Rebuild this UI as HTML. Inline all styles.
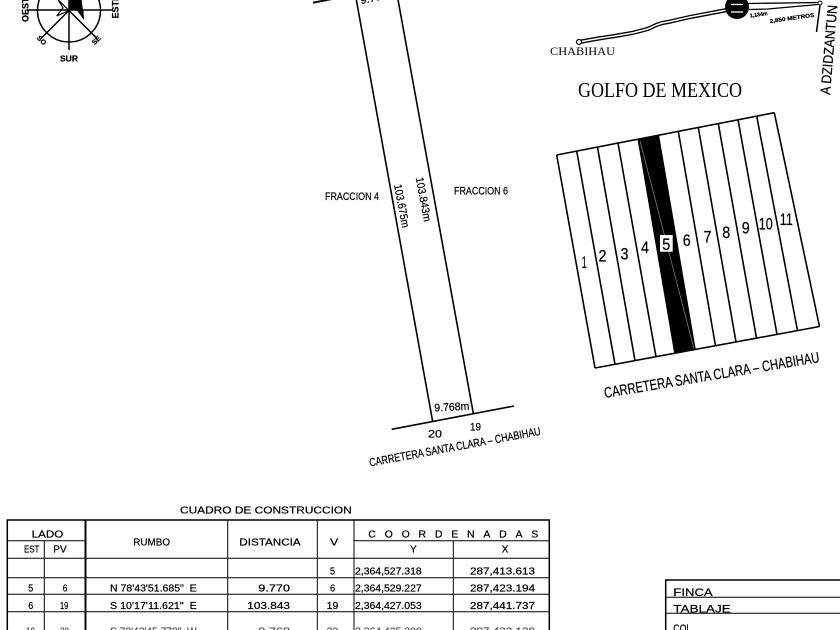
<!DOCTYPE html>
<html><head><meta charset="utf-8">
<style>
html,body{margin:0;padding:0;background:#fff;}
svg{display:block;}
text{font-family:"Liberation Sans",sans-serif;fill:#000;stroke:#000;stroke-width:0.22;}
.sf{font-family:"Liberation Serif",serif;stroke:none;}
</style></head><body>
<svg width="840" height="630" viewBox="0 0 840 630" xmlns="http://www.w3.org/2000/svg">
<rect width="840" height="630" fill="#fff"/>

<!-- Compass -->
<g stroke="#000" stroke-width="1.5" fill="none">
<circle cx="69" cy="10.5" r="31.5"/>
<line x1="26.5" y1="10" x2="112" y2="10"/>
<line x1="69" y1="-20" x2="69" y2="50"/>
<line x1="69" y1="10.5" x2="41" y2="38.5"/>
<line x1="69" y1="10.5" x2="97" y2="38.5"/>
<polygon points="58.3,0 63,8 56.7,16 69,10.5" stroke-width="1.2"/>
</g>
<polygon points="70,-5 81,-5 83,10.5 69,10.5" fill="#000"/>
<polygon points="77,10.5 83.5,10.5 84,20" fill="#000"/>
<text transform="translate(28.5,22) rotate(-90)" font-size="9" font-weight="bold">OESTE</text>
<text transform="translate(118.5,18.5) rotate(-90)" font-size="9" font-weight="bold">ESTE</text>
<text x="69" y="61.5" font-size="8.5" font-weight="bold" text-anchor="middle">SUR</text>
<text transform="translate(40,42) rotate(45)" font-size="7" font-weight="bold" text-anchor="middle">SO</text>
<text transform="translate(98,42) rotate(-45)" font-size="7" font-weight="bold" text-anchor="middle">SE</text>

<!-- Main lot -->
<g stroke="#000" stroke-width="1.6" fill="none">
<line x1="356" y1="-2" x2="432.7" y2="421.7"/>
<line x1="397.7" y1="-2" x2="473.3" y2="413.3"/>
<line x1="391.7" y1="429.3" x2="514" y2="406"/>
<line x1="313" y1="2.7" x2="345" y2="-3.5" stroke-width="2"/>
</g>
<text transform="translate(361,4) rotate(-10.8)" font-size="11" textLength="36" lengthAdjust="spacingAndGlyphs">9.770m</text>
<text x="325" y="200" font-size="11" textLength="54" lengthAdjust="spacingAndGlyphs">FRACCION 4</text>
<text x="454" y="194.5" font-size="11" textLength="54" lengthAdjust="spacingAndGlyphs">FRACCION 6</text>
<text transform="translate(394,185) rotate(79.2)" font-size="11" textLength="44" lengthAdjust="spacingAndGlyphs">103.675m</text>
<text transform="translate(415.7,178) rotate(79.2)" font-size="11" textLength="45" lengthAdjust="spacingAndGlyphs">103.843m</text>
<text transform="translate(434.5,411.5) rotate(-3)" font-size="11" textLength="35" lengthAdjust="spacingAndGlyphs">9.768m</text>
<text x="428" y="437.5" font-size="11" textLength="14" lengthAdjust="spacingAndGlyphs">20</text>
<text x="470" y="430.5" font-size="11" textLength="11" lengthAdjust="spacingAndGlyphs">19</text>
<text transform="translate(370,466.5) rotate(-10.5)" font-size="11.5" textLength="174" lengthAdjust="spacingAndGlyphs">CARRETERA SANTA CLARA – CHABIHAU</text>

<!-- Top right map -->
<path d="M579,42 C590,40 600,38 615,36 L632,33 C640,31 645,30 650,28 C656,25 660,23 668,22 L690,17 L727,10" stroke="#000" stroke-width="4.2" fill="none"/>
<path d="M579,42 C590,40 600,38 615,36 L632,33 C640,31 645,30 650,28 C656,25 660,23 668,22 L690,17 L727,10" stroke="#fff" stroke-width="1.6" fill="none"/>
<circle cx="579" cy="42" r="2.5" fill="#fff" stroke="#000" stroke-width="1.2"/>
<circle cx="737" cy="7" r="12" fill="#000"/>
<line x1="731" y1="4.5" x2="743" y2="4.5" stroke="#fff" stroke-width="1.3"/>
<line x1="731" y1="12" x2="743" y2="12" stroke="#fff" stroke-width="1.3"/>
<g stroke="#000" stroke-width="1.3" fill="none">
<line x1="748" y1="3.5" x2="818" y2="2.5"/>
<polyline points="749,9.5 768,9 818,4.5"/>
<line x1="820" y1="5" x2="816.5" y2="32" stroke-width="1.5"/>
</g>
<circle cx="820" cy="3" r="2" fill="#fff" stroke="#000" stroke-width="1"/>
<text transform="translate(750,17.5) rotate(-8)" font-size="5.5" font-weight="bold" textLength="18" lengthAdjust="spacingAndGlyphs">1,134m</text>
<text transform="translate(770,23) rotate(-8)" font-size="5.5" font-weight="bold" textLength="45" lengthAdjust="spacingAndGlyphs">2,850 METROS</text>
<text class="sf" x="550" y="55" font-size="12" textLength="65" lengthAdjust="spacingAndGlyphs">CHABIHAU</text>
<text class="sf" x="578" y="97" font-size="21" textLength="164" lengthAdjust="spacingAndGlyphs">GOLFO DE MEXICO</text>
<text transform="translate(830,95) rotate(-85.3)" font-size="14" textLength="90" lengthAdjust="spacingAndGlyphs">A DZIDZANTUN</text>

<!-- Right lot diagram -->
<polygon points="638.3,139.1 658.3,135.2 695,349.5 675,353.2" fill="#000"/>
<line x1="640" y1="141" x2="694" y2="349" stroke="#888" stroke-width="0.7"/>
<g stroke="#000" stroke-width="1.6" fill="none">
<line x1="556.7" y1="155" x2="774.3" y2="112.7"/>
<line x1="595" y1="368" x2="819.5" y2="326.5"/>
<line x1="556.7" y1="155" x2="595" y2="368"/>
<line x1="576.7" y1="151.1" x2="615" y2="364.3"/>
<line x1="597.5" y1="147.1" x2="635" y2="360.6"/>
<line x1="618" y1="143.1" x2="656" y2="356.7"/>
<line x1="638.3" y1="139.1" x2="675" y2="353.2"/>
<line x1="658.3" y1="135.2" x2="695" y2="349.5"/>
<line x1="678.3" y1="131.3" x2="715.5" y2="345.7"/>
<line x1="698.3" y1="127.5" x2="736" y2="341.9"/>
<line x1="718.3" y1="123.6" x2="756.5" y2="338.1"/>
<line x1="738" y1="119.7" x2="777" y2="334.3"/>
<line x1="756.7" y1="116.1" x2="797.5" y2="330.6"/>
<line x1="774.3" y1="112.7" x2="819.5" y2="326.5"/>
</g>
<rect x="660" y="235" width="12.7" height="16.7" fill="#fff"/>
<g font-size="17" text-anchor="middle">
<text x="584.2" y="268.2" textLength="5" lengthAdjust="spacingAndGlyphs">1</text>
<text x="602.5" y="261.5" textLength="8" lengthAdjust="spacingAndGlyphs">2</text>
<text x="624.5" y="259.5" textLength="8" lengthAdjust="spacingAndGlyphs">3</text>
<text x="645" y="253.2" textLength="8" lengthAdjust="spacingAndGlyphs">4</text>
<text x="666.3" y="249.8" textLength="8" lengthAdjust="spacingAndGlyphs">5</text>
<text x="686.7" y="246.2" textLength="8" lengthAdjust="spacingAndGlyphs">6</text>
<text x="707.5" y="242.5" textLength="8" lengthAdjust="spacingAndGlyphs">7</text>
<text x="726.2" y="238.2" textLength="8" lengthAdjust="spacingAndGlyphs">8</text>
<text x="745.8" y="233.5" textLength="8" lengthAdjust="spacingAndGlyphs">9</text>
<text x="765.8" y="229.5" textLength="14" lengthAdjust="spacingAndGlyphs">10</text>
<text x="786.3" y="224.8" textLength="13" lengthAdjust="spacingAndGlyphs">11</text>
</g>
<text transform="translate(605,398) rotate(-9.5)" font-size="15" textLength="218" lengthAdjust="spacingAndGlyphs">CARRETERA SANTA CLARA – CHABIHAU</text>

<!-- Table -->
<text x="180" y="513.3" font-size="10.5" textLength="171.7" lengthAdjust="spacingAndGlyphs">CUADRO DE CONSTRUCCION</text>
<g stroke="#000" fill="none">
<rect x="7.3" y="520" width="542" height="130" stroke-width="1.5"/>
<g stroke-width="1">
<line x1="7.3" y1="540.7" x2="85" y2="540.7"/>
<line x1="354" y1="540.7" x2="549.3" y2="540.7"/>
<line x1="7.3" y1="558.3" x2="549.3" y2="558.3"/>
<line x1="7.3" y1="577.7" x2="549.3" y2="577.7"/>
<line x1="7.3" y1="594.3" x2="549.3" y2="594.3"/>
<line x1="7.3" y1="611.7" x2="549.3" y2="611.7"/>
<line x1="44.3" y1="540.7" x2="44.3" y2="630"/>
<line x1="227.7" y1="520" x2="227.7" y2="630"/>
<line x1="317.3" y1="520" x2="317.3" y2="630"/>
<line x1="354" y1="520" x2="354" y2="630"/>
<line x1="453.3" y1="540.7" x2="453.3" y2="630"/>
</g>
<line x1="85.5" y1="520" x2="85.5" y2="630" stroke-width="2"/>
</g>
<g font-size="10.5">
<text x="31.7" y="537.7" textLength="31.6" lengthAdjust="spacingAndGlyphs">LADO</text>
<text x="24" y="552.3" textLength="15.3" lengthAdjust="spacingAndGlyphs">EST</text>
<text x="53.3" y="552.3" textLength="13.4" lengthAdjust="spacingAndGlyphs">PV</text>
<text x="133.3" y="545.7" textLength="36.7" lengthAdjust="spacingAndGlyphs">RUMBO</text>
<text x="239.3" y="545.7" textLength="61.4" lengthAdjust="spacingAndGlyphs">DISTANCIA</text>
<text x="330" y="545.7" textLength="8.3" lengthAdjust="spacingAndGlyphs">V</text>
<text x="368.3" y="537.7" textLength="170" lengthAdjust="spacing">COORDENADAS</text>
<text x="410" y="552.3" textLength="6.7" lengthAdjust="spacingAndGlyphs">Y</text>
<text x="501.7" y="552.3" textLength="6.6" lengthAdjust="spacingAndGlyphs">X</text>
</g>
<g font-size="10">
<text x="330" y="574.3" textLength="5" lengthAdjust="spacingAndGlyphs">5</text>
<text x="355" y="574.3" textLength="66.7" lengthAdjust="spacingAndGlyphs">2,364,527.318</text>
<text x="470" y="574.3" textLength="65" lengthAdjust="spacingAndGlyphs">287,413.613</text>

<text x="28.3" y="591.5" textLength="5" lengthAdjust="spacingAndGlyphs">5</text>
<text x="62.7" y="591.5" textLength="4.6" lengthAdjust="spacingAndGlyphs">6</text>
<text x="110" y="591.5" textLength="86.7" lengthAdjust="spacingAndGlyphs">N 78'43'51.685"&#160;&#160;E</text>
<text x="258.3" y="591.5" textLength="31.7" lengthAdjust="spacingAndGlyphs">9.770</text>
<text x="330" y="591.5" textLength="5" lengthAdjust="spacingAndGlyphs">6</text>
<text x="355" y="591.5" textLength="66.7" lengthAdjust="spacingAndGlyphs">2,364,529.227</text>
<text x="470" y="591.5" textLength="65" lengthAdjust="spacingAndGlyphs">287,423.194</text>

<text x="28.3" y="609" textLength="5" lengthAdjust="spacingAndGlyphs">6</text>
<text x="60" y="609" textLength="8.3" lengthAdjust="spacingAndGlyphs">19</text>
<text x="110" y="609" textLength="86.7" lengthAdjust="spacingAndGlyphs">S 10'17'11.621"&#160;&#160;E</text>
<text x="247.3" y="609" textLength="42.7" lengthAdjust="spacingAndGlyphs">103.843</text>
<text x="326.7" y="609" textLength="11.6" lengthAdjust="spacingAndGlyphs">19</text>
<text x="355" y="609" textLength="66.7" lengthAdjust="spacingAndGlyphs">2,364,427.053</text>
<text x="470" y="609" textLength="65" lengthAdjust="spacingAndGlyphs">287,441.737</text>
</g>
<g font-size="10">
<text x="26" y="634.5" textLength="9" lengthAdjust="spacingAndGlyphs" style="fill:#555;stroke:#555">19</text>
<text x="60" y="634.5" textLength="9" lengthAdjust="spacingAndGlyphs" style="fill:#555;stroke:#555">20</text>
<text x="110" y="634.5" textLength="86.7" lengthAdjust="spacingAndGlyphs" style="fill:#555;stroke:#555">S 79'42'45.778"&#160;&#160;W</text>
<text x="258.3" y="634.5" textLength="31.7" lengthAdjust="spacingAndGlyphs" style="fill:#555;stroke:#555">9.768</text>
<text x="326.7" y="634.5" textLength="11.6" lengthAdjust="spacingAndGlyphs" style="fill:#555;stroke:#555">20</text>
<text x="355" y="634.5" textLength="66.7" lengthAdjust="spacingAndGlyphs" style="fill:#555;stroke:#555">2,364,425.300</text>
<text x="470" y="634.5" textLength="65" lengthAdjust="spacingAndGlyphs" style="fill:#555;stroke:#555">287,432.129</text>
</g>

<!-- FINCA box -->
<g stroke="#000" fill="none">
<line x1="665.7" y1="580" x2="842" y2="580" stroke-width="1.5"/>
<line x1="665.7" y1="597.3" x2="842" y2="597.3" stroke-width="1"/>
<line x1="665.7" y1="613.3" x2="842" y2="613.3" stroke-width="1"/>
<line x1="665.7" y1="579.3" x2="665.7" y2="632" stroke-width="1.5"/>
</g>
<text x="673.3" y="596" font-size="11" textLength="39.4" lengthAdjust="spacingAndGlyphs">FINCA</text>
<text x="673.3" y="612.5" font-size="11" textLength="57.4" lengthAdjust="spacingAndGlyphs">TABLAJE</text>
<text x="673.3" y="632" font-size="11" textLength="18" lengthAdjust="spacingAndGlyphs">COL</text>
</svg>
</body></html>
